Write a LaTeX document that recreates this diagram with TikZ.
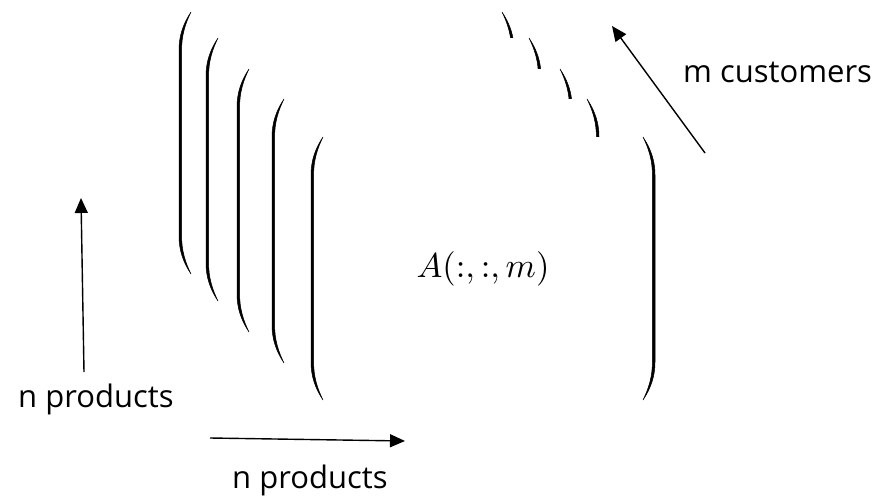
\documentclass[tikz,border=0pt]{standalone}
\usepackage{graphicx}
\usepackage{fontspec}
\setmainfont{Open Sans}
\usetikzlibrary{arrows.meta}
\newcommand\myparL[3]{%
  \fill[black,draw=black,line width=0.5pt]
    ({#1+12},{#2}) .. controls ({#1+4},{#2+12}) and ({#1},{#2+24}) .. ({#1},{#2+38})
    -- ({#1},{#3-38}) .. controls ({#1},{#3-24}) and ({#1+4},{#3-12}) .. ({#1+12},{#3})
    .. controls ({#1+6},{#3-12}) and ({#1+2.6},{#3-24}) .. ({#1+2.6},{#3-38})
    -- ({#1+2.6},{#2+38}) .. controls ({#1+2.6},{#2+24}) and ({#1+6},{#2+12}) .. ({#1+12},{#2}) -- cycle;}
\newcommand\myparR[3]{%
  \fill[black,draw=black,line width=0.5pt]
    ({#1-12},{#2}) .. controls ({#1-4},{#2+12}) and ({#1},{#2+24}) .. ({#1},{#2+38})
    -- ({#1},{#3-38}) .. controls ({#1},{#3-24}) and ({#1-4},{#3-12}) .. ({#1-12},{#3})
    .. controls ({#1-6},{#3-12}) and ({#1-2.6},{#3-24}) .. ({#1-2.6},{#3-38})
    -- ({#1-2.6},{#2+38}) .. controls ({#1-2.6},{#2+24}) and ({#1-6},{#2+12}) .. ({#1-12},{#2}) -- cycle;}
\newcommand\mymat[4]{% left, right, top, bottom
  \fill[white] (#1,#3) rectangle (#2,#4);
  \myparL{#1}{#3}{#4}\myparR{#2}{#3}{#4}}
\begin{document}
\begin{tikzpicture}[x=1pt,y=-1pt,
  lbl/.style={font=\fontsize{31}{36}\selectfont,inner sep=0pt,anchor=base west},
  arr/.style={-{Triangle[length=15pt,width=13pt]},line width=1.4pt}]
\useasboundingbox (0,0) rectangle (874,497);
\fill[white] (0,0) rectangle (874,497);
\mymat{179}{514}{12}{274}
\mymat{206}{541}{38}{301}
\mymat{237}{572}{69}{332}
\mymat{272}{599}{99}{363}
\mymat{311}{655}{137}{400}
\node[inner sep=0pt] (amat) at (483,269) {\resizebox{133pt}{!}{$A(:,:,m)$}};
\node[lbl] (lp) at (18,407) {n products};
\node[lbl] (bp) at (232,488) {n products};
\node[lbl] (mc) at (683,83) {m customers};
\coordinate (v1) at (84,372); \coordinate (v2) at (81,198);
\coordinate (h1) at (210,438); \coordinate (h2) at (405,441);
\coordinate (d1) at (705,153); \coordinate (d2) at (612,26);
\draw[arr] (v1) -- (v2);
\draw[arr] (h1) -- (h2);
\draw[arr] (d1) -- (d2);
\end{tikzpicture}
\end{document}
